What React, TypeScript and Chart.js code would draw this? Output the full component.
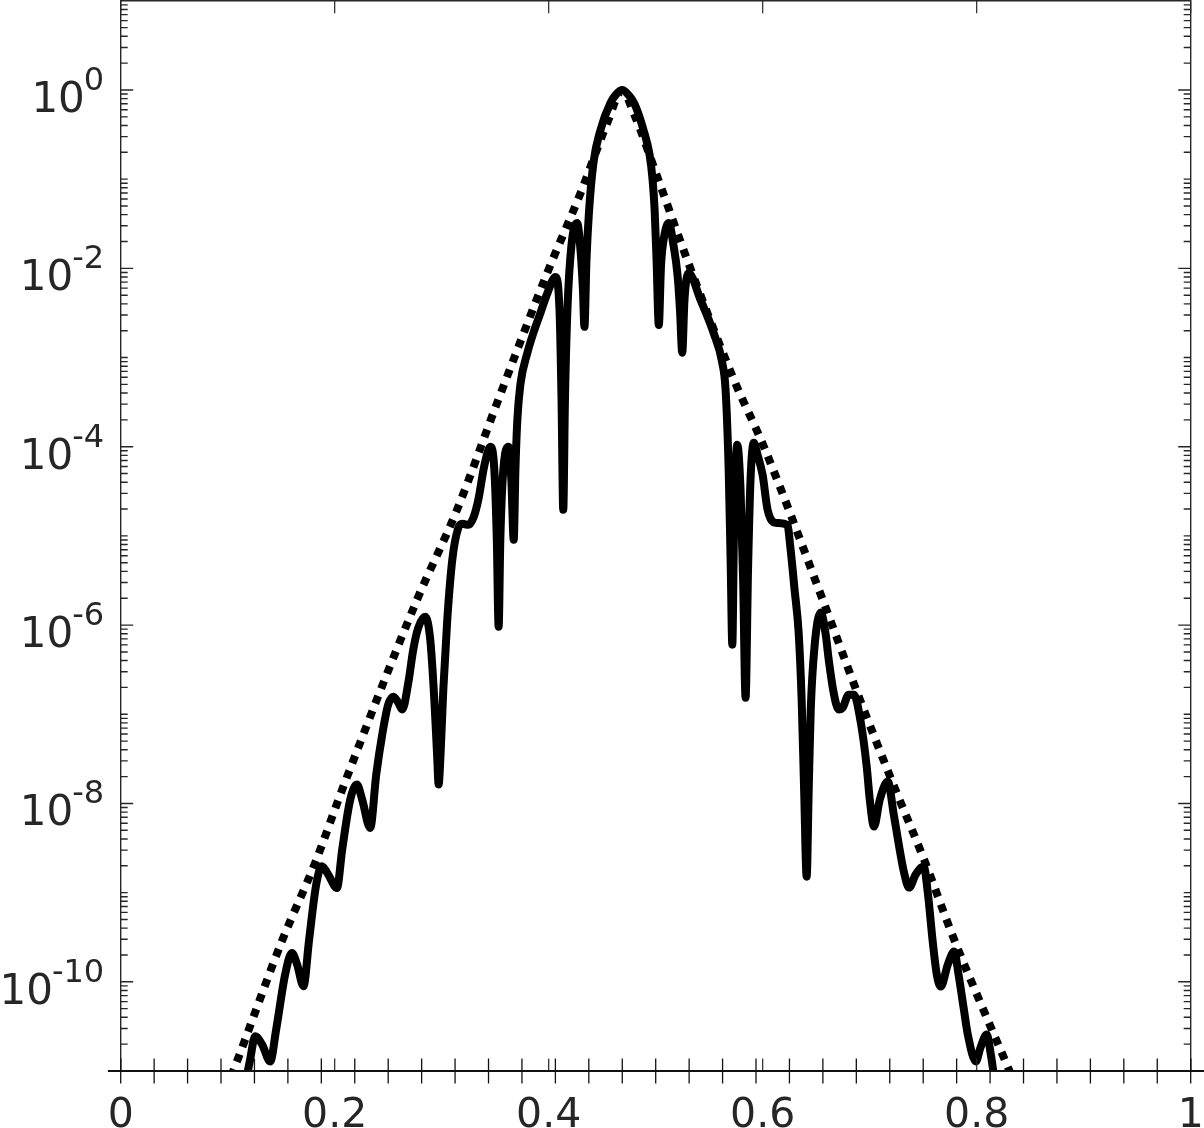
import React, { useEffect, useRef } from 'react';
import { Chart, registerables } from 'chart.js';

Chart.register(...registerables);

// ---- data ----
const solidX = [
  0.1163, 0.1210, 0.1256, 0.1322, 0.1397, 0.1453, 0.1537, 0.1600, 0.1649, 0.1708,
  0.1761, 0.1827, 0.1880, 0.1939, 0.2021, 0.2070, 0.2145, 0.2208, 0.2257, 0.2332,
  0.2388, 0.2444, 0.2500, 0.2547, 0.2594, 0.2631, 0.2688, 0.2734, 0.2781, 0.2847,
  0.2893, 0.2931, 0.2959, 0.2971, 0.2987, 0.3015, 0.3052, 0.3099, 0.3155, 0.3193,
  0.3249, 0.3296, 0.3342, 0.3398, 0.3455, 0.3492, 0.3515, 0.3532, 0.3548, 0.3576,
  0.3626, 0.3651, 0.3673, 0.3689, 0.3707, 0.3735, 0.3801, 0.3857, 0.3923, 0.3989,
  0.4063, 0.4101, 0.4120, 0.4136, 0.4152, 0.4175, 0.4213, 0.4266, 0.4297, 0.4320,
  0.4334, 0.4353, 0.4376, 0.4418, 0.4484, 0.4577, 0.4633, 0.4687, 0.4746, 0.4802,
  0.4886, 0.4943, 0.4971, 0.4990, 0.5008, 0.5029, 0.5050, 0.5082, 0.5122, 0.5166,
  0.5204, 0.5227, 0.5248, 0.5269, 0.5307, 0.5419, 0.5541, 0.5622, 0.5653, 0.5682,
  0.5700, 0.5716, 0.5732, 0.5762, 0.5793, 0.5817, 0.5840, 0.5863, 0.5886, 0.5917,
  0.5952, 0.5999, 0.6046, 0.6121, 0.6230, 0.6261, 0.6298, 0.6336, 0.6364, 0.6387,
  0.6411, 0.6430, 0.6449, 0.6486, 0.6542, 0.6589, 0.6617, 0.6663, 0.6710, 0.6748,
  0.6804, 0.6851, 0.6917, 0.6972, 0.7001, 0.7040, 0.7094, 0.7169, 0.7225, 0.7272,
  0.7319, 0.7368, 0.7430, 0.7505, 0.7543, 0.7590, 0.7627, 0.7664, 0.7730, 0.7789,
  0.7833, 0.7880, 0.7917, 0.7992, 0.8036, 0.8094, 0.8132, 0.8160, 0.8178,
];
const solidY = [
  7.06e-12, 1.35e-11, 2.45e-11, 1.98e-11, 1.28e-11, 2.92e-11, 1.21e-10, 2.11e-10, 1.56e-10, 8.93e-11,
  2.98e-10, 1.23e-9, 1.98e-9, 1.60e-9, 1.13e-9, 3.04e-9, 1.10e-8, 1.63e-8, 1.10e-8, 5.32e-9,
  2.10e-8, 5.90e-8, 1.28e-7, 1.57e-7, 1.35e-7, 1.13e-7, 2.26e-7, 5.30e-7, 9.35e-7, 1.24e-6,
  6.86e-7, 1.46e-7, 3.10e-8, 1.63e-8, 3.10e-8, 1.89e-7, 1.15e-6, 5.41e-6, 1.23e-5, 1.37e-5,
  1.33e-5, 1.60e-5, 2.54e-5, 6.11e-5, 1.00e-4, 5.51e-5, 9.06e-6, 9.59e-7, 9.06e-6, 5.51e-5,
  1.00e-4, 4.26e-5, 9.06e-6, 5.51e-5, 2.00e-4, 4.94e-4, 1.13e-3, 1.89e-3, 3.17e-3, 5.31e-3,
  8.02e-3, 3.42e-3, 3.36e-4, 1.96e-5, 3.36e-4, 3.42e-3, 1.83e-2, 3.23e-2, 1.61e-2, 5.74e-3,
  2.21e-3, 1.24e-2, 4.19e-2, 0.152, 0.356, 0.715, 0.902, 1.0, 0.879, 0.697,
  0.356, 0.187, 0.098, 0.0452, 1.24e-2, 2.32e-3, 1.09e-2, 2.37e-2, 3.23e-2, 1.83e-2,
  8.45e-3, 3.42e-3, 1.13e-3, 4.43e-3, 8.89e-3, 4.43e-3, 1.89e-3, 8.71e-4, 4.35e-4, 5.51e-5,
  5.41e-6, 6.03e-7, 1.17e-5, 1.05e-4, 3.29e-5, 3.23e-6, 1.53e-7, 4.18e-6, 4.26e-5, 1.11e-4,
  8.11e-5, 4.84e-5, 1.96e-5, 1.40e-5, 1.33e-5, 7.00e-6, 2.49e-6, 8.22e-7, 1.46e-7, 1.43e-8,
  1.51e-9, 1.43e-8, 1.13e-7, 6.03e-7, 1.38e-6, 7.80e-7, 4.09e-7, 1.75e-7, 1.13e-7, 1.19e-7,
  1.66e-7, 1.66e-7, 8.05e-8, 2.59e-8, 1.10e-8, 5.50e-9, 1.10e-8, 1.76e-8, 7.50e-9, 3.46e-9,
  1.72e-9, 1.14e-9, 1.60e-9, 1.96e-9, 1.00e-9, 2.75e-10, 1.21e-10, 8.85e-11, 1.56e-10, 2.19e-10,
  1.15e-10, 4.90e-11, 2.56e-11, 1.28e-11, 1.84e-11, 2.56e-11, 1.53e-11, 9.14e-12, 7.06e-12,
];

const dottedX = [
  0.0976, 0.1069, 0.1506, 0.1818, 0.2082, 0.2769, 0.3143, 0.3517, 0.3985, 0.4297,
  0.4546, 0.4687, 0.4795, 0.5014, 0.5295, 0.5731, 0.6011, 0.6572, 0.6885, 0.7227,
  0.7508, 0.7789, 0.8101, 0.8288, 0.8385,
];
const dottedY = [
  5.90e-12, 1.13e-11, 2.85e-10, 2.17e-9, 1.56e-8, 1.92e-6, 1.96e-5, 3.08e-4, 8.83e-3, 6.95e-2,
  0.424, 0.98, 0.548, 0.107, 1.24e-2, 5.62e-4, 1.0e-4, 1.77e-6, 1.73e-7, 1.56e-8,
  2.35e-9, 2.98e-10, 3.78e-11, 1.13e-11, 5.90e-12,
];

const xTickValues = [0, 0.2, 0.4, 0.6, 0.8, 1];
const xTickLabels = ['0', '0.2', '0.4', '0.6', '0.8', '1'];
const yTickValues = [1, 1e-2, 1e-4, 1e-6, 1e-8, 1e-10];
const yTickExponents = ['0', '-2', '-4', '-6', '-8', '-10'];

const X_MIN = 0;
const X_MAX = 1;
const Y_MIN = 1e-11;
const Y_MAX = 10;
const X_FINE_DIVISIONS = 32;

// ---- styles ----
const AXIS_COLOR = '#262626';
const FONT = '"DejaVu Sans", "Liberation Sans", sans-serif';

const axesPlugin = {
  id: 'matlabAxes',
  afterDraw(chart: any) {
    const ctx = chart.ctx as CanvasRenderingContext2D;
    const { left, right, top, bottom } = chart.chartArea;
    const xs = chart.scales.x;
    const ys = chart.scales.y;
    ctx.save();

    // box spines (left, top, right)
    ctx.strokeStyle = AXIS_COLOR;
    ctx.lineWidth = 1.4;
    ctx.beginPath();
    ctx.moveTo(left, bottom);
    ctx.lineTo(left, top);
    ctx.lineTo(right, top);
    ctx.lineTo(right, bottom);
    ctx.stroke();

    // y log ticks on both sides
    const eMin = Math.round(Math.log10(Y_MIN));
    const eMax = Math.round(Math.log10(Y_MAX));
    ctx.lineWidth = 1.4;
    for (let e = eMin; e < eMax; e++) {
      for (let m = 1; m <= 9; m++) {
        const v = m * Math.pow(10, e);
        if (v < Y_MIN || v > Y_MAX) continue;
        const py = ys.getPixelForValue(v);
        const major = m === 1 && e % 2 === 0;
        const len = major ? 12.5 : 7;
        ctx.beginPath();
        ctx.moveTo(left, py);
        ctx.lineTo(left + len, py);
        ctx.moveTo(right, py);
        ctx.lineTo(right - len, py);
        ctx.stroke();
      }
    }

    // x major ticks (inward) on bottom and top
    ctx.lineWidth = 1.2;
    for (const v of xTickValues) {
      const px = xs.getPixelForValue(v);
      ctx.beginPath();
      ctx.moveTo(px, bottom);
      ctx.lineTo(px, bottom - 12.5);
      ctx.moveTo(px, top);
      ctx.lineTo(px, top + 12.5);
      ctx.stroke();
    }

    // extended bottom axis line with crossing ticks
    ctx.strokeStyle = '#111111';
    ctx.lineWidth = 2;
    ctx.beginPath();
    ctx.moveTo(xs.getPixelForValue(-0.012), bottom);
    ctx.lineTo(chart.width, bottom);
    ctx.stroke();
    ctx.lineWidth = 1.3;
    for (let k = 0; k <= X_FINE_DIVISIONS; k++) {
      const px = xs.getPixelForValue(X_MIN + (k * (X_MAX - X_MIN)) / X_FINE_DIVISIONS);
      ctx.beginPath();
      ctx.moveTo(px, bottom - 12.5);
      ctx.lineTo(px, bottom + 12.5);
      ctx.stroke();
    }

    // x labels
    ctx.fillStyle = AXIS_COLOR;
    ctx.font = `41px ${FONT}`;
    ctx.textAlign = 'center';
    ctx.textBaseline = 'alphabetic';
    xTickValues.forEach((v, i) => {
      ctx.fillText(xTickLabels[i], xs.getPixelForValue(v), bottom + 55.5);
    });

    // y labels 10^e
    const rightEdge = left - 16.5;
    yTickValues.forEach((v, i) => {
      const py = ys.getPixelForValue(v);
      ctx.font = `32px ${FONT}`;
      const supW = ctx.measureText(yTickExponents[i]).width;
      ctx.textAlign = 'left';
      ctx.fillText(yTickExponents[i], rightEdge - supW, py);
      ctx.font = `42px ${FONT}`;
      ctx.textAlign = 'right';
      ctx.fillText('10', rightEdge - supW + 1, py + 22);
    });

    ctx.restore();
  },
};

export default function App() {
  const canvasRef = useRef<HTMLCanvasElement | null>(null);

  useEffect(() => {
    const canvas = canvasRef.current;
    if (!canvas) return;
    const solid = solidX.map((x, i) => ({ x, y: solidY[i] }));
    const dotted = dottedX.map((x, i) => ({ x, y: dottedY[i] }));
    const chart = new Chart(canvas, {
      type: 'line',
      data: {
        datasets: [
          {
            label: 'solid',
            data: solid,
            borderColor: '#000000',
            borderWidth: 8,
            pointRadius: 0,
            cubicInterpolationMode: 'monotone',
            fill: false,
            borderJoinStyle: 'round',
            borderCapStyle: 'round',
            clip: 0,
          } as any,
          {
            label: 'dotted',
            data: dotted,
            borderColor: '#000000',
            borderWidth: 8,
            borderDash: [8, 8],
            pointRadius: 0,
            cubicInterpolationMode: 'monotone',
            fill: false,
            borderCapStyle: 'butt',
            borderJoinStyle: 'miter',
            clip: 0,
          } as any,
        ],
      },
      options: {
        responsive: false,
        animation: false,
        devicePixelRatio: 1,
        layout: { padding: { left: 120.7, right: 13.3, top: 0.8, bottom: 57 } },
        plugins: { legend: { display: false }, tooltip: { enabled: false } },
        events: [],
        scales: {
          x: { type: 'linear', min: X_MIN, max: X_MAX, display: false },
          y: { type: 'logarithmic', min: Y_MIN, max: Y_MAX, display: false },
        },
      },
      plugins: [axesPlugin],
    });
    return () => chart.destroy();
  }, []);

  return (
    <div style={{ position: 'absolute', left: 0, top: 0, width: 1204, height: 1128, background: '#ffffff' }}>
      <canvas ref={canvasRef} width={1204} height={1128} style={{ display: 'block' }} />
    </div>
  );
}
